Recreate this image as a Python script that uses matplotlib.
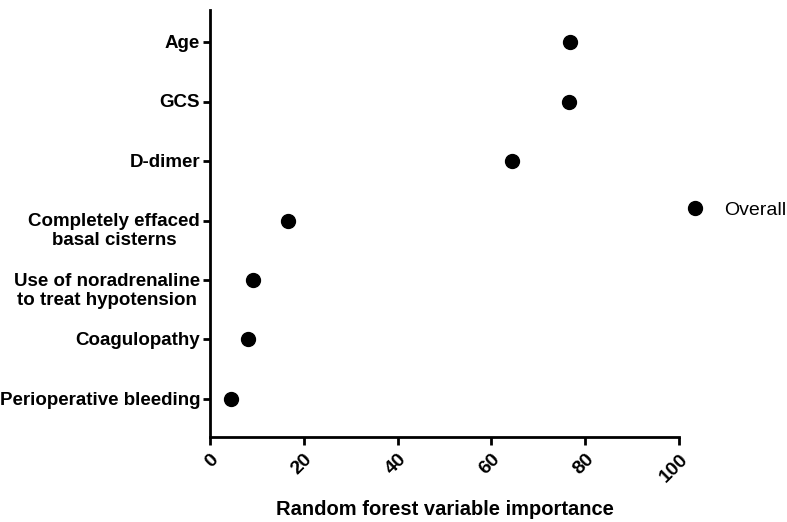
from matplotlib import pyplot as plt
from matplotlib import transforms

plt.rcParams['font.family'] = ['Liberation Sans', 'DejaVu Sans']

# variable names, bottom to top
labels = ['Perioperative bleeding', 'Coagulopathy',
          'Use of noradrenaline\nto treat hypotension',
          'Completely effaced\nbasal cisterns', 'D-dimer', 'GCS', 'Age']
importance = [4.5, 8.1, 9.2, 16.7, 64.3, 76.5, 76.8]
xticks = [0, 20, 40, 60, 80, 100]

fig = plt.figure(figsize=(7.87, 5.22), dpi=100)
ax = fig.add_axes([0.2668, 0.1628, 0.596, 0.818])

ypos = list(range(len(labels)))
ax.plot(importance, ypos, 'o', color='black', markersize=10, label='Overall', clip_on=False)

ax.set_xlim(0, 100)
ax.set_ylim(-0.64, 6.54)
ax.set_yticks(ypos)
ax.set_yticklabels([])
# labels drawn by hand so that the first line of each sits on its tick
off = transforms.ScaledTranslation(-7/72, 5.2/72, fig.dpi_scale_trans)
for y, lab in zip(ypos, labels):
    ax.text(0, y, lab, transform=ax.get_yaxis_transform() + off, ha='right', va='top',
            fontsize=13.5, fontweight='bold', multialignment='center', linespacing=1.15)

ax.set_xticks(xticks)
ax.set_xticklabels([str(t) for t in xticks], fontsize=14, fontweight='bold',
                   rotation=45, ha='right', rotation_mode='anchor')
ax.set_xlabel('Random forest variable importance', fontsize=14.5, fontweight='bold', labelpad=10)

for s in ['top', 'right']:
    ax.spines[s].set_visible(False)
for s in ['left', 'bottom']:
    ax.spines[s].set_linewidth(2)
ax.tick_params(axis='both', width=2, length=5, pad=2)
ax.tick_params(axis='x', length=6, pad=4)

l = fig.legend(loc='center left', bbox_to_anchor=(0.849, 0.598), fontsize=14,
               frameon=False, handletextpad=0.5, borderaxespad=0)

fig.savefig('out.png', dpi=100)
